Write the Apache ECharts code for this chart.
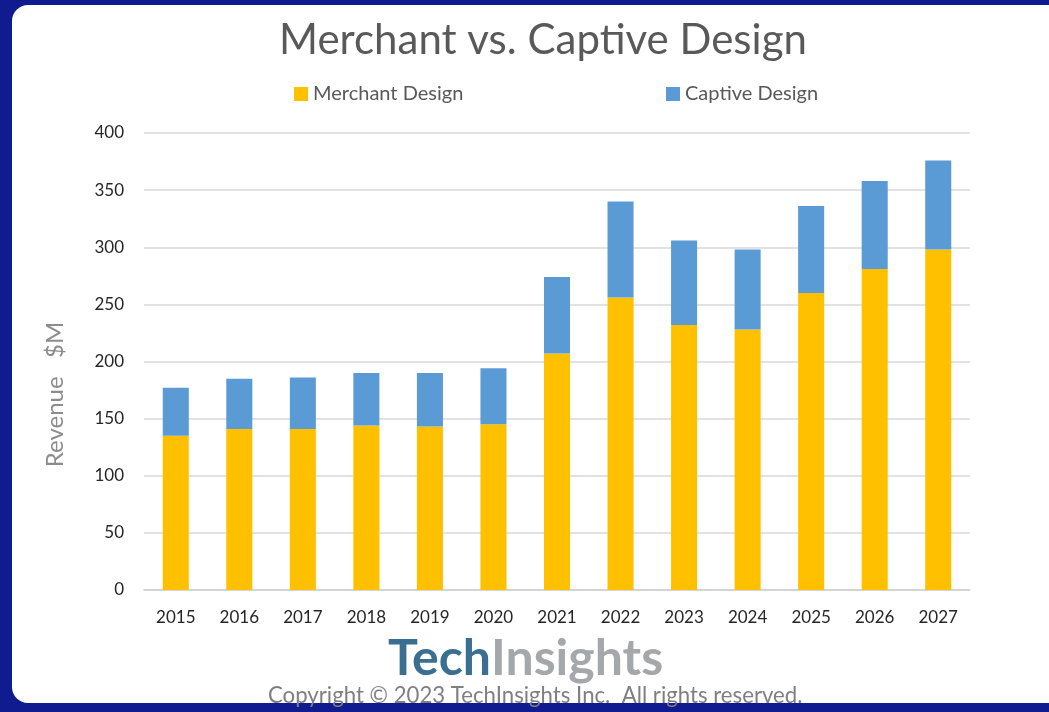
<!DOCTYPE html>
<html>
<head>
<meta charset="utf-8">
<script src="https://cdn.jsdelivr.net/npm/echarts@6/dist/echarts.min.js"></script>
<style>
  html, body { margin: 0; padding: 0; background: #0f1b8e; }
  #chart { width: 1049px; height: 712px; }
</style>
</head>
<body>
<div id="chart"></div>
<script>
const years = ['2015', '2016', '2017', '2018', '2019', '2020', '2021', '2022', '2023', '2024', '2025', '2026', '2027']
const merchant = [135, 141, 141, 144, 143, 145, 207, 256, 232, 228, 260, 281, 298]
const captive = [42, 44, 45, 46, 47, 49, 67, 84, 74, 70, 76, 77, 78]

const font = 'Lato, "Open Sans", sans-serif'

const option = {
  backgroundColor: '#0f1b8e',
  animation: false,
  title: {
    text: 'Merchant vs. Captive Design',
    left: 538,
    textAlign: 'center',
    top: 14,
    textStyle: { fontFamily: font, fontSize: 42, fontWeight: 'normal', color: '#595959' }
  },
  legend: [
    {
      data: ['Merchant Design'],
      left: 289, top: 79,
      itemWidth: 14, itemHeight: 14, icon: 'rect', itemGap: 6,
      textStyle: { fontFamily: font, fontSize: 20, color: '#595959' }
    },
    {
      data: ['Captive Design'],
      left: 661, top: 79,
      itemWidth: 14, itemHeight: 14, icon: 'rect',
      textStyle: { fontFamily: font, fontSize: 20, color: '#595959' }
    }
  ],
  graphic: [
    {
      type: 'rect', z: -10, silent: true,
      shape: { x: 12, y: 5, width: 1060, height: 698, r: 16 },
      style: { fill: '#ffffff' }
    },
    {
      type: 'text', left: 388, top: 634, silent: true,
      style: {
        rich: {
          a: { fontFamily: font, fontSize: 50, fontWeight: 'bold', fill: '#3b6f91' },
          b: { fontFamily: font, fontSize: 50, fontWeight: 'bold', fill: '#a5a8ab' }
        },
        text: '{a|Tech}{b|Insights}'
      }
    },
    {
      type: 'text', left: 268, top: 685, silent: true,
      style: {
        text: 'Copyright © 2023 TechInsights Inc.  All rights reserved.',
        fontFamily: font, fontSize: 22.2, fill: '#7f7f7f'
      }
    }
  ],
  grid: { left: 144, right: 79, top: 133, bottom: 122 },
  xAxis: {
    type: 'category',
    data: years,
    axisLine: { lineStyle: { color: '#d0d0d0', width: 1.5 } },
    axisTick: { show: false },
    axisLabel: { fontFamily: font, fontSize: 17, color: '#262626', margin: 19 }
  },
  yAxis: {
    type: 'value',
    min: 0, max: 400, interval: 50,
    name: 'Revenue   $M',
    nameLocation: 'middle',
    nameGap: 77,
    nameTextStyle: { fontFamily: font, fontSize: 24, color: '#8c8c8c', padding: [0, 66, 0, 0] },
    axisLine: { show: false },
    axisTick: { show: false },
    splitLine: { lineStyle: { color: '#d9d9d9', width: 1.5 } },
    axisLabel: { fontFamily: font, fontSize: 17, color: '#262626', margin: 20 }
  },
  series: [
    {
      name: 'Merchant Design',
      type: 'bar',
      stack: 'rev',
      barWidth: '41%',
      data: merchant,
      itemStyle: { color: '#ffc000' }
    },
    {
      name: 'Captive Design',
      type: 'bar',
      stack: 'rev',
      data: captive,
      itemStyle: { color: '#5b9bd5' }
    }
  ]
}

const chartDom = document.getElementById('chart')
const myChart = echarts.init(chartDom)
myChart.setOption(option)
</script>
</body>
</html>
